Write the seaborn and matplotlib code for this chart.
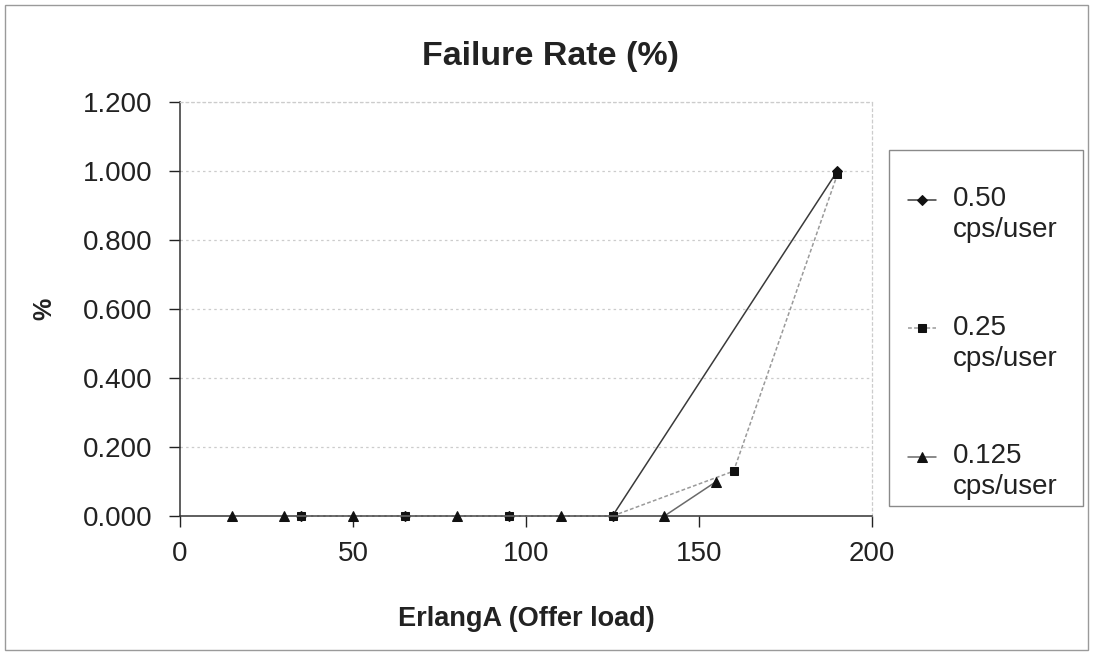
import matplotlib
matplotlib.use("Agg")
import matplotlib.pyplot as plt
from matplotlib.patches import Rectangle
from matplotlib.legend_handler import HandlerLine2D
import pandas as pd
import seaborn as sns

# Offered load (Erlang) and failure rate per call rate
load_050 = [35, 65, 95, 125, 190]
fail_050 = [0.0, 0.0, 0.0, 0.0, 1.0]

load_025 = [35, 65, 95, 125, 160, 190]
fail_025 = [0.0, 0.0, 0.0, 0.0, 0.13, 0.99]

load_0125 = [15, 30, 50, 80, 110, 140, 155]
fail_0125 = [0.0, 0.0, 0.0, 0.0, 0.0, 0.0, 0.10]

series_labels = ["0.50\ncps/user", "0.25\ncps/user", "0.125\ncps/user"]
y_ticks = [0.0, 0.2, 0.4, 0.6, 0.8, 1.0, 1.2]
x_ticks = [0, 50, 100, 150, 200]

sns.set_theme(style="white")
plt.rcParams["font.family"] = ["Liberation Sans", "DejaVu Sans"]

W, H = 1093, 655
fig = plt.figure(figsize=(W / 100, H / 100), dpi=100)
fig.patch.set_facecolor("white")
ax = fig.add_axes([180 / W, 1 - 516 / H, (872 - 180) / W, (516 - 102) / H])

styles = [
    dict(color="#3a3a3a", linestyle="-", marker="D", markersize=5.5),
    dict(color="#9a9a9a", linestyle=(0, (2.5, 1.5)), marker="s", markersize=5.5),
    dict(color="#6a6a6a", linestyle="-", marker="^", markersize=6.5),
]
datasets = [(load_050, fail_050), (load_025, fail_025), (load_0125, fail_0125)]

for (xs, ys), lab, st in zip(datasets, series_labels, styles):
    df = pd.DataFrame({"load": xs, "fail": ys})
    sns.lineplot(data=df, x="load", y="fail", ax=ax, label=lab,
                 color=st["color"], linestyle=st["linestyle"], linewidth=1.1,
                 marker=st["marker"], markersize=st["markersize"],
                 markerfacecolor="#111111", markeredgecolor="#111111",
                 sort=False, zorder=3, clip_on=False)

ax.set_xlim(0, 200)
ax.set_ylim(0, 1.2)
ax.set_xticks(x_ticks)
ax.set_yticks(y_ticks)
ax.set_xticklabels([str(v) for v in x_ticks])
ax.set_yticklabels([f"{v:.3f}" for v in y_ticks])
ax.tick_params(axis="both", labelsize=20, colors="#222222", length=8,
               width=1, direction="out", left=True, bottom=True)
ax.tick_params(axis="y", pad=12)
ax.tick_params(axis="x", pad=10)

ax.yaxis.grid(True, color="#cccccc", linestyle=(0, (2, 2.5)), linewidth=0.9)
ax.xaxis.grid(False)
for side in ("left", "bottom"):
    ax.spines[side].set_color("#333333")
    ax.spines[side].set_linewidth(1.1)
for side in ("top", "right"):
    ax.spines[side].set_color("#cccccc")
    ax.spines[side].set_linestyle((0, (2, 2.5)))
    ax.spines[side].set_linewidth(0.9)

ax.set_xlabel("ErlangA (Offer load)", fontsize=19.5, fontweight="bold",
              color="#222222", labelpad=28)
ax.set_ylabel("%", fontsize=18, fontweight="bold", color="#222222", labelpad=19)
fig.text(551 / W, 1 - 56 / H, "Failure Rate (%)", fontsize=24.5,
         fontweight="bold", color="#222222", ha="center", va="center")


class FirstLineHandler(HandlerLine2D):
    """Places the legend line next to the first line of a two-line label."""

    def create_artists(self, legend, orig_handle, xdescent, ydescent,
                       width, height, fontsize, trans):
        return super().create_artists(legend, orig_handle, xdescent,
                                      ydescent - 22.0, width, height,
                                      fontsize, trans)


handles, labels = ax.get_legend_handles_labels()
ax.get_legend().remove()
leg = fig.legend(handles, labels, loc="upper left",
                 bbox_to_anchor=(908 / W, 1 - 186 / H), frameon=False,
                 fontsize=20, borderpad=0, borderaxespad=0,
                 handlelength=1.0, handletextpad=0.6, labelspacing=2.58,
                 handler_map={h: FirstLineHandler() for h in handles})
for t in leg.get_texts():
    t.set_linespacing(1.25)
    t.set_color("#222222")

# legend frame and outer chart border
fig.patches.append(Rectangle((889 / W, 1 - 506 / H), (1083 - 889) / W,
                             (506 - 150) / H, transform=fig.transFigure,
                             fill=False, edgecolor="#8a8a8a", linewidth=1))
fig.patches.append(Rectangle((5 / W, 5 / H), (1088 - 5) / W, (650 - 5) / H,
                             transform=fig.transFigure, fill=False,
                             edgecolor="#9a9a9a", linewidth=1))

fig.savefig("out.png", dpi=100, facecolor="white")
